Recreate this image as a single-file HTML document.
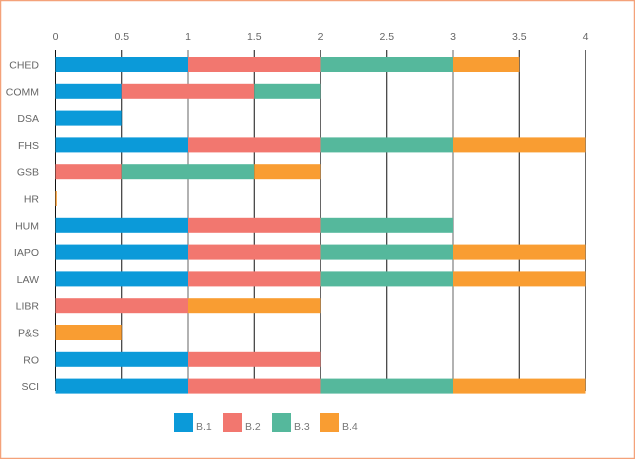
<!DOCTYPE html>
<html><head><meta charset="utf-8"><style>
body{margin:0;background:#fff;}
svg{display:block;font-family:"Liberation Sans",sans-serif;}
</style></head><body>
<svg id="chart" width="635" height="459">
<rect x="0.5" y="0.5" width="634" height="458" fill="#fff" stroke="#f4a27a" stroke-width="1.5"/>
<g id="grid"></g><g id="bars"></g><g id="labels"></g><g id="legend"></g>
</svg>
<script>
const categories=["CHED","COMM","DSA","FHS","GSB","HR","HUM","IAPO","LAW","LIBR","P&S","RO","SCI"];
const seriesNames=["B.1","B.2","B.3","B.4"];
const b1=[1,0.5,0.5,1,0,0,1,1,1,0,0,1,1];
const b2=[1,1,0,1,0.5,0,1,1,1,1,0,1,1];
const b3=[1,0.5,0,1,1,0,1,1,1,0,0,0,1];
const b4=[0.5,0,0,1,0.5,0.01,0,1,1,1,0.5,0,1];
const ticks=[0,0.5,1,1.5,2,2.5,3,3.5,4];
const colors=["#0b9ad9","#f2776f","#55b89c","#f99d32"];
const series=[b1,b2,b3,b4];
const NS="http://www.w3.org/2000/svg";
const x=v=>55.5+v*132.5;
const yc=i=>64.5+i*26.8;
function mk(t,a,p){const e=document.createElementNS(NS,t);for(const k in a)e.setAttribute(k,a[k]);p.appendChild(e);return e;}
const grid=document.getElementById('grid'),bars=document.getElementById('bars'),labels=document.getElementById('labels'),legend=document.getElementById('legend');
ticks.forEach(t=>{
 const l=mk('line',{x1:x(t),x2:x(t),y1:50,y2:391,stroke:t%1===0&&t>0?'#666':'#111','stroke-width':1},grid);
 
 
 const tx=mk('text',{x:x(t),y:40,'text-anchor':'middle','font-size':10.5,fill:'#666'},labels);
 tx.textContent=String(t);
 
 
});
categories.forEach((c,i)=>{
 const tx=mk('text',{x:39,y:yc(i)+4,'text-anchor':'end','font-size':10.5,fill:'#666'},labels);
 tx.textContent=c;
 
 
 let acc=0;
 series.forEach((s,k)=>{
  const v=s[i]; if(v<=0)return;
  const r=mk('rect',{x:x(acc),y:yc(i)-7.5,width:x(acc+v)-x(acc),height:15,fill:colors[k]},bars);
  
  
  acc+=v;
 });
});
const lx=[174,223,272,320];
seriesNames.forEach((n,k)=>{
 const r=mk('rect',{x:lx[k],y:413,width:19,height:19,fill:colors[k]},legend);
 
 
 const t=mk('text',{x:lx[k]+22,y:430,'font-size':10.5,fill:'#777'},legend);
 t.textContent=n;
 
 
});
</script>
</body></html>
